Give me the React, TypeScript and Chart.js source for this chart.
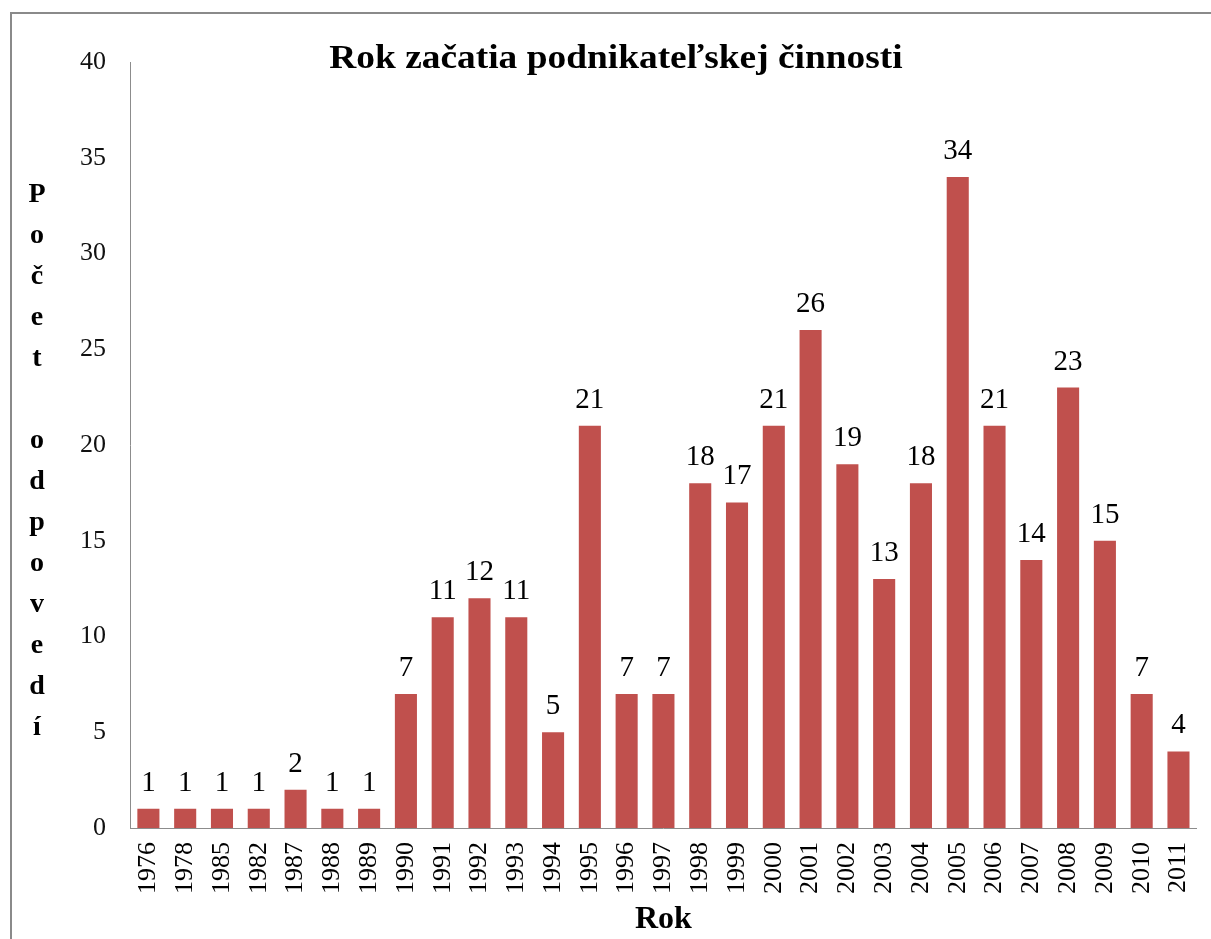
import React, { useEffect, useRef } from "react";
import { Chart, registerables } from "chart.js";

Chart.register(...registerables);

const years = [
  "1976", "1978", "1985", "1982", "1987", "1988", "1989", "1990", "1991", "1992",
  "1993", "1994", "1995", "1996", "1997", "1998", "1999", "2000", "2001", "2002",
  "2003", "2004", "2005", "2006", "2007", "2008", "2009", "2010", "2011",
];
const counts = [
  1, 1, 1, 1, 2, 1, 1, 7, 11, 12,
  11, 5, 21, 7, 7, 18, 17, 21, 26, 19,
  13, 18, 34, 21, 14, 23, 15, 7, 4,
];
const chartTitle = "Rok začatia podnikateľskej činnosti";
const xTitle = "Rok";
const yTitleLetters = ["P", "o", "č", "e", "t", "", "o", "d", "p", "o", "v", "e", "d", "í"];

const SERIF = '"Liberation Serif", "Times New Roman", serif';
const BAR_COLOR = "#C0504D";
const AXIS_COLOR = "#8c8c8c";

const decorPlugin = {
  id: "decor",
  afterDatasetsDraw(chart: any) {
    const { ctx, chartArea } = chart;
    ctx.save();
    // data labels
    const meta = chart.getDatasetMeta(0);
    ctx.font = `29px ${SERIF}`;
    ctx.fillStyle = "#000";
    ctx.textAlign = "center";
    ctx.textBaseline = "alphabetic";
    meta.data.forEach((bar: any, i: number) => {
      ctx.fillText(String(counts[i]), bar.x, bar.y - 18);
    });
    // title (slightly widened like the original)
    ctx.save();
    ctx.translate(chart.width / 2 - 2, 45);
    ctx.scale(1.1, 1);
    ctx.font = `bold 34px ${SERIF}`;
    ctx.textBaseline = "middle";
    ctx.fillText(chartTitle, 0, 0);
    ctx.restore();
    // stacked y axis title
    ctx.font = `bold 28px ${SERIF}`;
    ctx.textBaseline = "middle";
    const step = 41;
    const mid = (chartArea.top + chartArea.bottom) / 2 + 16;
    const start = mid - ((yTitleLetters.length - 1) / 2) * step;
    yTitleLetters.forEach((ch, i) => {
      if (ch) ctx.fillText(ch, 25, start + i * step);
    });
    ctx.restore();
  },
};

export default function App() {
  const ref = useRef<HTMLCanvasElement | null>(null);
  useEffect(() => {
    if (!ref.current) return;
    const chart = new Chart(ref.current, {
      type: "bar",
      data: {
        labels: years,
        datasets: [
          {
            data: counts,
            backgroundColor: BAR_COLOR,
            borderWidth: 0,
            barPercentage: 0.6,
            categoryPercentage: 1.0,
          },
        ],
      },
      options: {
        animation: false,
        responsive: false,
        maintainAspectRatio: false,
        layout: { padding: { left: 0, right: 19, top: 48, bottom: 0 } },
        plugins: {
          legend: { display: false },
          tooltip: { enabled: false },
          title: { display: false },
        },
        scales: {
          x: {
            grid: { display: false, drawTicks: false },
            border: { display: true, color: AXIS_COLOR, width: 1 },
            ticks: {
              color: "#000",
              font: { family: SERIF, size: 26 },
              minRotation: 90,
              maxRotation: 90,
              autoSkip: false,
              padding: 14,
            },
            title: {
              display: true,
              text: xTitle,
              color: "#000",
              font: { family: SERIF, size: 32, weight: "bold", lineHeight: 1.2 },
              padding: { top: 0, bottom: 5 },
            },
            afterFit(scale: any) {
              scale.height = 116;
            },
          },
          y: {
            min: 0,
            max: 40,
            grid: { display: false, drawTicks: false },
            border: { display: true, color: AXIS_COLOR, width: 1 },
            ticks: {
              stepSize: 5,
              color: "#111",
              font: { family: SERIF, size: 26 },
              padding: 24,
            },
            afterFit(scale: any) {
              scale.width = 118;
            },
          },
        },
      },
      plugins: [decorPlugin],
    });
    return () => chart.destroy();
  }, []);

  return (
    <div style={{ position: "fixed", inset: 0, overflow: "hidden", background: "#fff" }}>
      <div
        style={{
          position: "absolute",
          left: 10,
          top: 12,
          border: "2px solid #8a8a8a",
          width: 1212,
          height: 930,
          background: "#fff",
        }}
      >
        <canvas ref={ref} width={1212} height={930} style={{ display: "block" }} />
      </div>
    </div>
  );
}
